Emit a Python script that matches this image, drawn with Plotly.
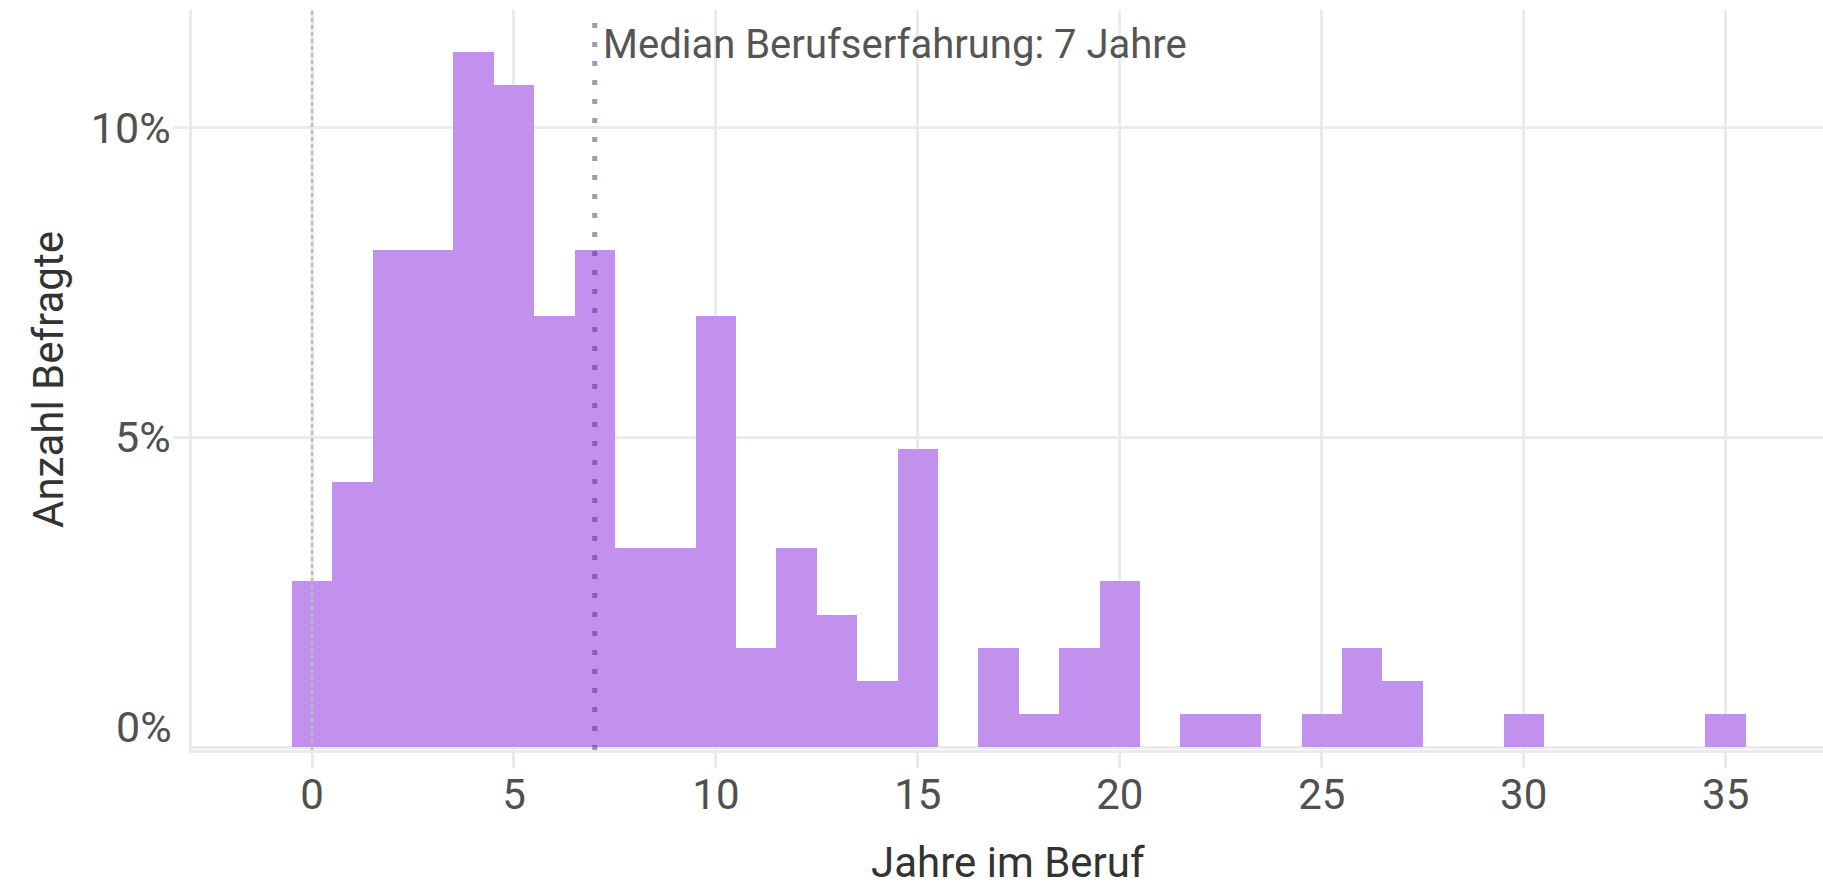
import plotly.graph_objects as go

# Histogram: Berufserfahrung in Jahren (Bins à 1 Jahr)
jahre = list(range(0, 36))
anzahl = [5, 8, 15, 15, 21, 20, 13, 15, 6, 6,
          13, 3, 6, 4, 2, 9, 0, 3, 1, 3,
          5, 0, 1, 1, 0, 1, 3, 2, 0, 0,
          1, 0, 0, 0, 0, 1]
n_befragte = 187
median_jahre = 7

y_ticks = [0.05, 0.10]
y_ticktext = ["5%", "10%"]
x_ticks = [0, 5, 10, 15, 20, 25, 30, 35]

anteil = [a / n_befragte for a in anzahl]

FONT = "Roboto"
GRID = "#ebebeb"
BAR = "#c291ee"

fig = go.Figure()
fig.add_trace(go.Bar(
    x=jahre,
    y=anteil,
    width=1,
    marker=dict(color=BAR, line=dict(width=0)),
    hoverinfo="x+y",
))

# dünne gestrichelte Linie bei 0
fig.add_vline(x=0, line=dict(color="#bdbdbd", width=2.5, dash="4px,3px"))
# Median-Linie
fig.add_vline(x=median_jahre, line=dict(color="rgba(75,50,100,0.5)", width=5, dash="5px,14px"))

fig.add_annotation(
    x=median_jahre, xref="x", y=0.1134, yref="y", yanchor="middle",
    text="Median Berufserfahrung: 7 Jahre", showarrow=False, xanchor="left",
    xshift=6, font=dict(family=FONT, size=40, color="#555555"),
)
# "0%" sitzt im Original etwas oberhalb der Nulllinie
fig.add_annotation(
    x=0, xref="paper", y=0, yref="y", text="0%", showarrow=False,
    xanchor="right", yanchor="middle", xshift=-18, yshift=20,
    font=dict(family=FONT, size=43, color="#505050"),
)
# Achsentitel
fig.add_annotation(
    x=0.5, xref="paper", y=0, yref="paper", text="Jahre im Beruf", showarrow=False,
    xanchor="center", yanchor="middle", yshift=-112,
    font=dict(family=FONT, size=42, color="#333333"),
)
fig.add_annotation(
    x=0, xref="paper", y=0.5, yref="paper", text="Anzahl Befragte", showarrow=False,
    textangle=-90, xanchor="center", yanchor="middle", xshift=-144,
    font=dict(family=FONT, size=42, color="#333333"),
)

fig.update_layout(
    width=1823, height=886,
    margin=dict(l=192, r=0, t=10, b=136),
    paper_bgcolor="white", plot_bgcolor="white",
    bargap=0, showlegend=False,
    font=dict(family=FONT, size=40, color="#4d4d4d"),
)
fig.update_xaxes(
    range=[-2.971, 37.41], tickvals=x_ticks,
    showgrid=True, gridcolor=GRID, gridwidth=2.5,
    zeroline=False, showline=True, linecolor=GRID, linewidth=2.5,
    ticks="outside", ticklen=15, tickwidth=2.5, tickcolor=GRID,
    ticklabelstandoff=-9,
    tickfont=dict(family=FONT, size=42, color="#505050"),
)
fig.update_yaxes(
    range=[-0.00048, 0.119], tickvals=y_ticks, ticktext=y_ticktext,
    showgrid=True, gridcolor=GRID, gridwidth=2.5,
    zeroline=True, zerolinecolor=GRID, zerolinewidth=2.5,
    showline=True, linecolor=GRID, linewidth=2.5,
    ticks="outside", ticklen=16, tickwidth=2.5, tickcolor=GRID,
    ticklabelstandoff=-6,
    tickfont=dict(family=FONT, size=43, color="#505050"),
)

# Seitenrand des Browsers entfernen, damit die Grafik exakt bei (0,0) sitzt
fig.write_html(
    "out.html",
    config={"displayModeBar": False},
    post_script="document.body.style.margin='0';",
)
